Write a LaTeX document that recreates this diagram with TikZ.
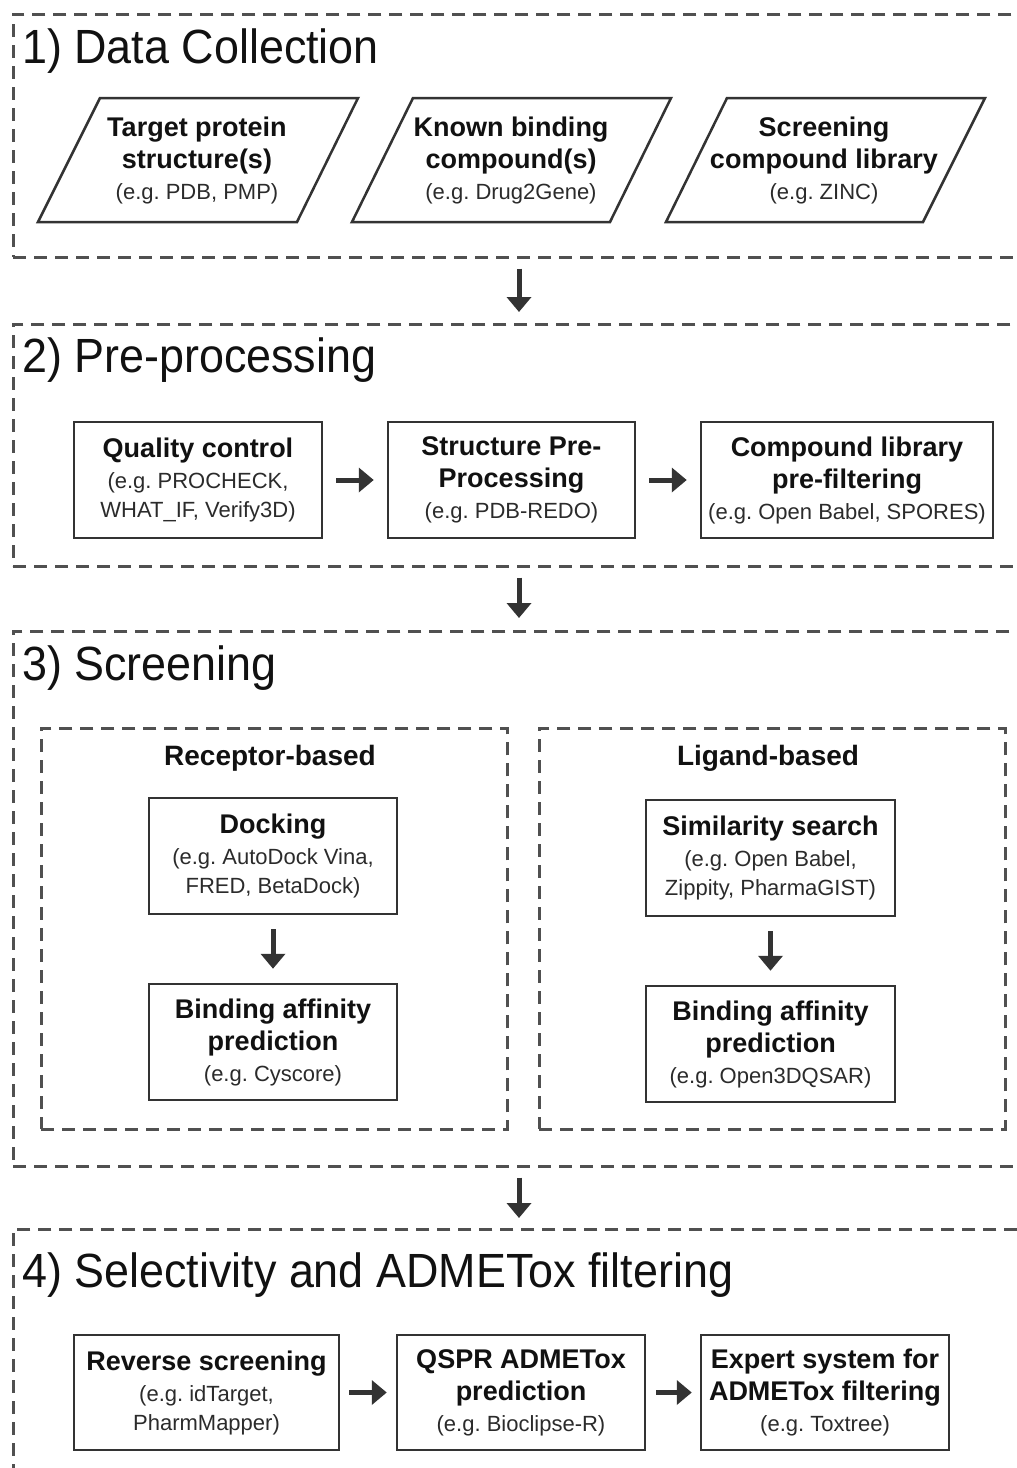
\documentclass[tikz,border=0pt]{standalone}
\usepackage{fontspec}
\setmainfont{Liberation Sans}
\usetikzlibrary{arrows.meta}
\definecolor{ln}{HTML}{333333}
\definecolor{dl}{HTML}{505050}
\definecolor{eg}{HTML}{2B2B2B}
\definecolor{tx}{HTML}{111111}
\newcommand{\bfx}{\fontsize{27}{32}\selectfont\bfseries\color{tx}}
\newcommand{\egx}{\fontsize{22}{29}\selectfont\mdseries\color{eg}}
\newcommand{\ttl}{\fontsize{48}{54}\selectfont}
\newcommand{\ttlbox}[1]{\scalebox{0.935}[1]{#1}}
\frenchspacing
\begin{document}
\frenchspacing
\begin{tikzpicture}[x=1pt,y=-1pt,
 secbox/.style={draw=dl, line width=2.5pt, dash pattern=on 13pt off 8pt, anchor=north west, inner sep=0pt},
 box/.style={draw=ln, line width=2.5pt, inner sep=0pt, align=center, font=\bfx, minimum height=116pt},
 ptext/.style={inner sep=0pt, align=center, font=\bfx},
 para/.style={draw=ln, line width=2.5pt, line join=miter},
 arr/.style={draw=ln, line width=5pt, -{Triangle[length=15pt,width=24pt]}},
 title/.style={anchor=base west, inner sep=0pt, font=\ttl, text=tx},
 lbl/.style={inner sep=0pt, font=\fontsize{28}{32}\selectfont\bfseries, text=tx}]
\useasboundingbox (0,0) rectangle (1017,1468);
\fill[white] (0,0) rectangle (1017,1468);
\begin{scope}
\clip (0,0) rectangle (1017,1468);
\coordinate (ax) at (519,0);

% ---- sections
\node[secbox, minimum width=1018pt, minimum height=243pt] (S1) at (12,13) {};
\node[secbox, minimum width=1018pt, minimum height=242pt] (S2) at (12,323) {};
\node[secbox, minimum width=1018pt, minimum height=535pt] (S3) at (12,630) {};
\node[secbox, minimum width=1018pt, minimum height=270pt] (S4) at (12,1228) {};

\node[title] (T1) at (22,63) {\ttlbox{1) Data Collection}};
\node[title] (T2) at (22,372) {\ttlbox{2) Pre-processing}};
\node[title] (T3) at (22,680) {\ttlbox{3) Screening}};
\node[title] (T4) at (22,1287) {\ttlbox{4) Selectivity and ADMETox filtering}};

% ---- 1) data collection
\draw[para] (100,98) -- (358,98) -- (297,222) -- (38,222) -- cycle;
\draw[para] (413,98) -- (671,98) -- (610,222) -- (352,222) -- cycle;
\draw[para] (727,98) -- (985,98) -- (923,222) -- (666,222) -- cycle;
\node[ptext] (P1) at (197,160) {Target protein\\structure(s)\\[-1pt]\egx (e.g. PDB, PMP)};
\node[ptext] (P2) at (511,160) {Known binding\\compound(s)\\[-1pt]\egx (e.g. Drug2Gene)};
\node[ptext] (P3) at (824,160) {Screening\\compound library\\[-1pt]\egx (e.g. ZINC)};

% ---- 2) pre-processing
\node[box, minimum width=248pt] (B1) at (198,480) {Quality control\\[-1pt]\egx (e.g. PROCHECK,\\[-3pt]\egx WHAT\_IF, Verify3D)};
\node[box, minimum width=247pt] (B2) at (511.5,480) {Structure Pre-\\Processing\\[-1pt]\egx (e.g. PDB-REDO)};
\node[box, minimum width=292pt] (B3) at (847,480) {Compound library\\pre-filtering\\[-1pt]\egx (e.g. Open Babel, SPORES)};
\draw[arr, shorten <=13pt, shorten >=13pt] (B1) -- (B2);
\draw[arr, shorten <=13pt, shorten >=13pt] (B2) -- (B3);

% ---- 3) screening
\node[secbox, minimum width=466pt, minimum height=401pt] (RB) at (40,727) {};
\node[secbox, minimum width=466pt, minimum height=401pt] (LB) at (538,727) {};
\node[lbl] (RBl) at (270,758) {Receptor-based};
\node[lbl] (LBl) at (768,758) {Ligand-based};
\node[box, minimum width=248pt] (D1) at (273,856) {Docking\\[-1pt]\egx (e.g. AutoDock Vina,\\[-3pt]\egx FRED, BetaDock)};
\node[box, minimum width=248pt] (A1) at (273,1042) {Binding affinity\\prediction\\[-1pt]\egx (e.g. Cyscore)};
\node[box, minimum width=249pt] (D2) at (770.5,858) {Similarity search\\[-1pt]\egx (e.g. Open Babel,\\[-3pt]\egx Zippity, PharmaGIST)};
\node[box, minimum width=249pt] (A2) at (770.5,1044) {Binding affinity\\prediction\\[-1pt]\egx (e.g. Open3DQSAR)};
\draw[arr, shorten <=14pt, shorten >=14pt] (D1) -- (A1);
\draw[arr, shorten <=14pt, shorten >=14pt] (D2) -- (A2);

% ---- 4) selectivity
\node[box, minimum width=265pt, minimum height=115pt] (R1) at (206.5,1392.5) {Reverse screening\\[-1pt]\egx (e.g. idTarget,\\[-3pt]\egx PharmMapper)};
\node[box, minimum width=248pt, minimum height=115pt] (R2) at (521,1392.5) {QSPR ADMETox\\prediction\\[-1pt]\egx (e.g. Bioclipse-R)};
\node[box, minimum width=248pt, minimum height=115pt] (R3) at (825,1392.5) {Expert system for\\ADMETox filtering\\[-1pt]\egx (e.g. Toxtree)};
\draw[arr, shorten <=9pt, shorten >=9pt] (R1) -- (R2);
\draw[arr, shorten <=10pt, shorten >=8pt] (R2) -- (R3);

% ---- between sections
\draw[arr, shorten <=10pt, shorten >=11pt] (S1.south -| ax) -- (S2.north -| ax);
\draw[arr, shorten <=10pt, shorten >=12pt] (S2.south -| ax) -- (S3.north -| ax);
\draw[arr, shorten <=10pt, shorten >=10pt] (S3.south -| ax) -- (S4.north -| ax);
\end{scope}
\end{tikzpicture}
\end{document}
